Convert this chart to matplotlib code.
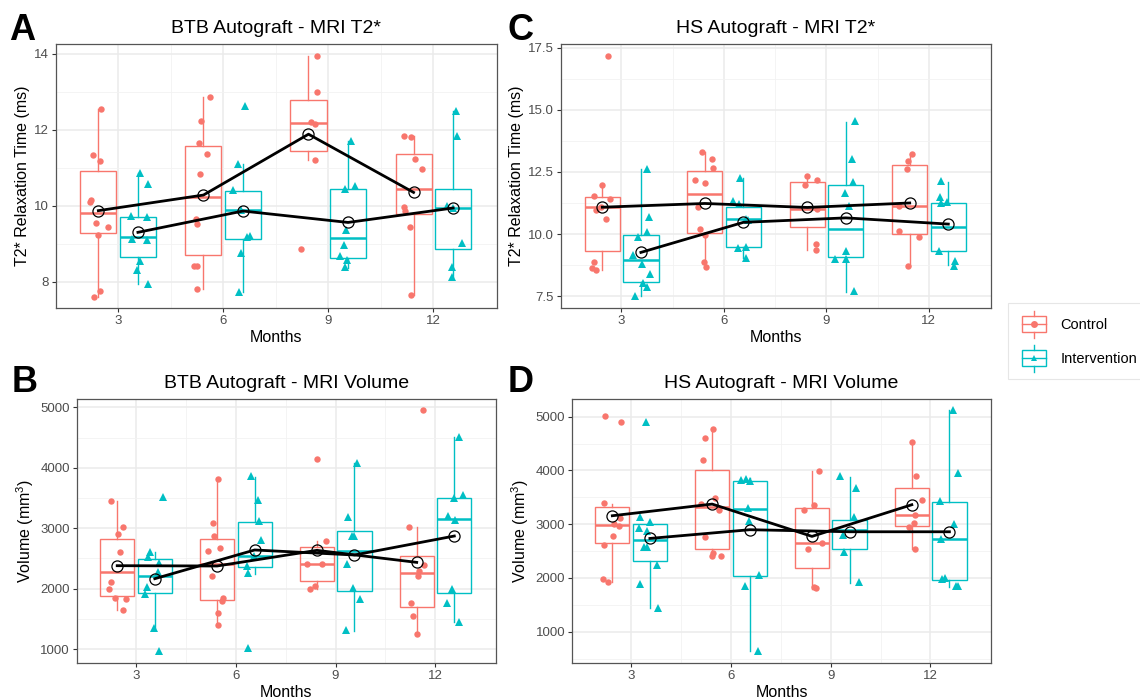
import matplotlib
matplotlib.use('Agg')
import matplotlib.pyplot as plt
from matplotlib.legend_handler import HandlerBase
from matplotlib.patches import Rectangle
from matplotlib.lines import Line2D

plt.rcParams['font.family'] = ['Liberation Sans', 'DejaVu Sans']
plt.rcParams['mathtext.fontset'] = 'custom'
plt.rcParams['mathtext.rm'] = 'Liberation Sans'
plt.rcParams['mathtext.it'] = 'Liberation Sans'

months = [3, 6, 9, 12]
groups = ['Control', 'Intervention']
colors = {'Control': '#F8766D', 'Intervention': '#00BFC4'}

# ---- A: BTB T2* ----
# box stats per month: [whisker low, q1, median, q3, whisker high]
btb_t2_ctrl_box = [[7.60, 9.29, 9.81, 10.92, 12.55], [7.81, 8.70, 10.23, 11.57, 12.85],
                   [11.20, 11.44, 12.18, 12.77, 13.93], [7.65, 9.77, 10.45, 11.36, 11.83]]
btb_t2_int_box = [[7.94, 8.66, 9.19, 9.71, 10.86], [7.72, 9.13, 9.90, 10.39, 11.10],
                  [8.37, 8.63, 9.15, 10.43, 11.69], [8.13, 8.85, 9.95, 10.44, 12.49]]
btb_t2_ctrl_pts = [[12.54, 11.32, 11.18, 10.09, 10.14, 9.54, 9.45, 9.23, 7.75, 7.60],
                   [12.85, 12.23, 11.64, 11.36, 10.84, 9.53, 9.64, 8.42, 8.42, 7.81],
                   [13.93, 12.98, 12.21, 12.16, 11.20, 8.86],
                   [11.84, 11.80, 11.22, 10.96, 9.97, 9.87, 9.45, 7.65]]
btb_t2_ctrl_jit = [[0.08, -0.16, 0.05, -0.25, -0.20, -0.07, 0.27, -0.01, 0.05, -0.12],
                   [0.20, -0.07, -0.12, 0.10, -0.10, -0.17, -0.20, -0.27, -0.17, -0.19],
                   [0.24, 0.25, 0.08, 0.19, 0.19, -0.20],
                   [-0.26, -0.06, 0.03, 0.25, -0.27, -0.24, -0.09, -0.06]]
btb_t2_int_pts = [[10.85, 10.56, 9.74, 9.70, 9.13, 9.09, 8.55, 8.32, 7.94],
                  [12.62, 11.10, 10.40, 9.90, 9.17, 9.21, 8.75, 7.72],
                  [11.69, 10.52, 10.43, 9.35, 8.97, 8.69, 8.57, 8.39],
                  [12.49, 11.84, 10.00, 9.95, 9.02, 8.40, 8.13]]
btb_t2_int_jit = [[0.06, 0.30, -0.21, 0.27, -0.16, 0.27, 0.06, -0.02, 0.29],
                  [0.07, -0.15, -0.28, -0.05, 0.10, 0.21, -0.06, -0.11],
                  [0.08, 0.19, -0.09, -0.06, -0.12, -0.23, -0.04, -0.08],
                  [0.07, 0.10, -0.18, 0.00, 0.25, -0.02, -0.03]]
btb_t2_ctrl_mean = [9.87, 10.28, 11.88, 10.35]
btb_t2_int_mean = [9.30, 9.86, 9.56, 9.94]

# ---- C: HS T2* ----
hs_t2_ctrl_box = [[8.56, 9.31, 11.08, 11.51, 11.99], [8.68, 10.06, 11.61, 12.55, 13.32],
                  [9.37, 10.29, 10.99, 12.08, 12.35], [8.72, 10.00, 11.11, 12.79, 13.23]]
hs_t2_int_box = [[7.50, 8.08, 8.96, 9.98, 12.60], [9.04, 9.49, 10.59, 11.07, 12.26],
                 [7.68, 9.06, 10.22, 11.96, 14.52], [8.74, 9.31, 10.27, 11.24, 12.10]]
hs_t2_ctrl_pts = [[17.15, 11.99, 11.54, 11.43, 10.96, 11.07, 10.60, 8.87, 8.64, 8.56],
                  [13.31, 13.02, 12.67, 12.17, 12.05, 11.08, 10.21, 9.98, 8.87, 8.68],
                  [12.35, 12.17, 11.98, 10.99, 9.61, 9.37],
                  [13.23, 12.94, 12.61, 11.12, 10.14, 9.86, 8.72]]
hs_t2_ctrl_jit = [[0.17, -0.01, -0.23, 0.23, -0.18, -0.05, 0.12, -0.24, -0.31, -0.18],
                  [-0.07, 0.22, 0.25, -0.29, 0.00, -0.19, -0.13, 0.00, -0.01, 0.03],
                  [0.00, 0.28, -0.08, 0.28, 0.26, 0.27],
                  [0.06, -0.06, -0.07, -0.32, -0.30, 0.27, -0.04]]
hs_t2_int_pts = [[12.61, 10.69, 10.08, 9.89, 9.15, 8.78, 8.39, 8.01, 7.85, 7.50],
                 [12.24, 11.31, 11.20, 10.61, 10.56, 9.42, 9.49, 9.04],
                 [14.56, 13.04, 12.10, 11.66, 11.14, 9.33, 9.00, 8.98, 7.70],
                 [12.13, 11.50, 11.23, 11.27, 9.33, 8.92, 8.72]]
hs_t2_int_jit = [[0.18, 0.25, 0.17, -0.08, -0.22, 0.04, 0.27, 0.07, 0.17, -0.18],
                 [-0.09, -0.30, -0.14, 0.08, 0.14, -0.17, 0.07, 0.09],
                 [0.28, 0.18, 0.22, -0.02, 0.08, -0.01, -0.31, 0.01, 0.23],
                 [-0.20, -0.25, -0.22, -0.03, -0.26, 0.19, 0.16]]
hs_t2_ctrl_mean = [11.08, 11.23, 11.07, 11.25]
hs_t2_int_mean = [9.26, 10.47, 10.65, 10.40]

# ---- B: BTB volume ----
btb_vol_ctrl_box = [[1640, 1883, 2269, 2821, 3445], [1397, 1811, 2407, 2821, 3808],
                    [1990, 2126, 2407, 2694, 2793], [1254, 1701, 2252, 2545, 3014]]
btb_vol_int_box = [[1342, 1927, 2203, 2490, 2610], [2247, 2357, 2539, 3108, 3840],
                   [1300, 1960, 2630, 2953, 4073], [1441, 1921, 3157, 3505, 4503]]
btb_vol_ctrl_pts = [[3455, 3019, 2898, 2611, 2114, 1999, 1844, 1833, 1640],
                    [3808, 3086, 2865, 2677, 2617, 2208, 1839, 1794, 1590, 1397],
                    [4145, 2793, 2401, 2412, 2043, 1988],
                    [4950, 3025, 2390, 2286, 2203, 1756, 1546, 1254]]
btb_vol_ctrl_jit = [[-0.19, 0.16, 0.02, 0.07, -0.19, -0.25, -0.06, 0.26, 0.17],
                    [0.03, -0.12, -0.08, 0.08, -0.26, -0.15, 0.19, 0.15, 0.02, 0.03],
                    [0.01, 0.27, -0.29, 0.15, -0.06, -0.22],
                    [0.20, -0.22, 0.23, 0.07, 0.05, -0.16, -0.12, 0.00]]
btb_vol_int_pts = [[3521, 2611, 2517, 2418, 2269, 2021, 1905, 1353, 967],
                   [3858, 3461, 3113, 2804, 2374, 2263, 2539, 1022],
                   [4073, 3179, 2876, 2876, 2401, 2015, 1822, 1309],
                   [4503, 3543, 3505, 3196, 3141, 1988, 1767, 1441]]
btb_vol_int_jit = [[0.26, -0.13, -0.21, 0.14, 0.11, -0.24, -0.29, -0.02, 0.14],
                   [-0.12, 0.11, 0.13, 0.19, -0.22, -0.20, -0.01, -0.20],
                   [0.07, -0.20, -0.08, 0.00, -0.22, -0.04, 0.17, -0.26],
                   [0.13, 0.27, -0.01, -0.19, 0.01, -0.08, -0.21, 0.13]]
btb_vol_ctrl_mean = [2379, 2374, 2633, 2434]
btb_vol_int_mean = [2164, 2639, 2556, 2870]

# ---- D: HS volume ----
hs_vol_ctrl_box = [[1918, 2650, 2978, 3326, 3380], [2401, 2544, 3326, 4014, 4771],
                   [1800, 2184, 2656, 3301, 3995], [2532, 2972, 3164, 3673, 4529]]
hs_vol_int_box = [[1447, 2315, 2712, 2997, 3047], [640, 2042, 3276, 3803, 3859],
                  [1912, 2544, 2885, 3078, 3878], [1837, 1961, 2730, 3419, 5118]]
hs_vol_ctrl_pts = [[5012, 4907, 3400, 3121, 3003, 2966, 2774, 2606, 1974, 1918],
                   [4771, 4609, 4194, 3481, 3381, 3257, 2755, 2457, 2414, 2401],
                   [3995, 3264, 3350, 2656, 2538, 1825, 1818],
                   [4529, 3890, 3450, 3164, 3022, 2941, 2532]]
hs_vol_ctrl_jit = [[-0.22, 0.25, -0.24, 0.22, 0.04, 0.19, 0.03, -0.24, -0.29, -0.14],
                   [0.03, -0.21, -0.28, 0.10, -0.32, 0.20, -0.22, 0.03, -0.01, 0.28],
                   [0.22, -0.23, 0.05, 0.29, -0.11, 0.07, 0.13],
                   [0.00, 0.13, 0.30, 0.10, 0.08, -0.07, 0.11]]
hs_vol_int_pts = [[4895, 3127, 3047, 2929, 2873, 2581, 2581, 2240, 1887, 1447],
                  [3828, 3840, 3797, 3295, 3065, 2054, 1856, 647],
                  [3902, 3673, 3127, 2798, 2482, 1924],
                  [5124, 3946, 3437, 3009, 2730, 1980, 1992, 1856, 1850]]
hs_vol_int_jit = [[-0.12, -0.30, -0.01, -0.32, -0.08, -0.19, -0.08, 0.22, -0.30, 0.25],
                  [-0.25, -0.10, 0.00, -0.06, -0.02, 0.29, -0.15, 0.26],
                  [-0.28, 0.18, 0.12, -0.21, -0.17, 0.29],
                  [0.12, 0.27, -0.28, 0.13, -0.24, -0.22, -0.13, 0.19, 0.26]]
hs_vol_ctrl_mean = [3158, 3375, 2774, 3363]
hs_vol_int_mean = [2736, 2898, 2860, 2860]

dodge = {'Control': -0.56, 'Intervention': 0.57}
markers = {'Control': 'o', 'Intervention': '^'}
box_w = 1.03


def draw_group(ax, grp, box, pts, jit, mean):
    col = colors[grp]
    pos = [m + dodge[grp] for m in months]
    stats = [dict(whislo=b[0], q1=b[1], med=b[2], q3=b[3], whishi=b[4], fliers=[])
             for b in box]
    ax.bxp(stats, positions=pos, widths=box_w, showcaps=False, showfliers=False,
           patch_artist=True, manage_ticks=False,
           boxprops=dict(facecolor='none', edgecolor=col, linewidth=1.0),
           whiskerprops=dict(color=col, linewidth=1.0),
           medianprops=dict(color=col, linewidth=1.8), zorder=2)
    for p, vals, js in zip(pos, pts, jit):
        xs = [p + j for j in js]
        ax.plot(xs, vals, linestyle='none', marker=markers[grp], color=col,
                markersize=4.6 if grp == 'Control' else 5.2, markeredgewidth=0, zorder=3)
    ax.plot(pos, mean, color='black', linewidth=2.0, zorder=4)
    ax.plot(pos, mean, linestyle='none', marker='o', markersize=8,
            markerfacecolor='none', markeredgecolor='black', markeredgewidth=0.9, zorder=5)


def panel(rect, title, ylabel, ylim, majors, minors, ctrl, intv):
    ax = fig.add_axes(rect)
    ax.set_xlim(1.23, 13.82)
    ax.set_ylim(*ylim)
    ax.set_xticks(months)
    ax.set_xticks([4.5, 7.5, 10.5], minor=True)
    ax.set_yticks(majors)
    ax.set_yticks(minors, minor=True)
    ax.grid(which='major', color='#EBEBEB', linewidth=1.1, zorder=0)
    ax.grid(which='minor', color='#F2F2F2', linewidth=0.6, zorder=0)
    ax.set_axisbelow(True)
    ax.tick_params(which='major', length=3, width=0.8, color='#333333',
                   labelsize=9.5, labelcolor='#4D4D4D', pad=2)
    ax.tick_params(which='minor', length=0)
    for s in ax.spines.values():
        s.set_color('#555555')
        s.set_linewidth(0.9)
    ax.set_title(title, fontsize=14, pad=8)
    ax.set_xlabel('Months', fontsize=11.5, labelpad=2)
    ax.set_ylabel(ylabel, fontsize=11.5, labelpad=3)
    draw_group(ax, 'Control', *ctrl)
    draw_group(ax, 'Intervention', *intv)
    return ax


class BoxHandler(HandlerBase):
    def __init__(self, grp):
        super().__init__()
        self.grp = grp

    def create_artists(self, legend, orig_handle, xdescent, ydescent, width, height,
                       fontsize, trans):
        col = colors[self.grp]
        cx = width / 2 - xdescent
        cy = height / 2 - ydescent
        bw, bh = width * 0.9, height * 1.0
        rect = Rectangle((cx - bw / 2, cy - bh / 2), bw, bh, facecolor='white',
                         edgecolor=col, linewidth=1.0, transform=trans)
        med = Line2D([cx - bw / 2, cx + bw / 2], [cy, cy], color=col, lw=1.0, transform=trans)
        wt = Line2D([cx, cx], [cy + bh / 2, cy + bh / 2 + 4], color=col, lw=1.0, transform=trans)
        wb = Line2D([cx, cx], [cy - bh / 2, cy - bh / 2 - 4], color=col, lw=1.0, transform=trans)
        pt = Line2D([cx], [cy], marker=markers[self.grp], color=col, markersize=5,
                    markeredgewidth=0, transform=trans)
        return [rect, med, wt, wb, pt]


fig = plt.figure(figsize=(11.4, 6.98), dpi=100)

panel([0.0491, 0.5587, 0.3868, 0.3782], 'BTB Autograft - MRI T2*', 'T2* Relaxation Time (ms)',
      (7.31, 14.25), [8, 10, 12, 14], [9, 11, 13],
      (btb_t2_ctrl_box, btb_t2_ctrl_pts, btb_t2_ctrl_jit, btb_t2_ctrl_mean),
      (btb_t2_int_box, btb_t2_int_pts, btb_t2_int_jit, btb_t2_int_mean))
panel([0.4921, 0.5587, 0.3772, 0.3782], 'HS Autograft - MRI T2*', 'T2* Relaxation Time (ms)',
      (7.02, 17.65), [7.5, 10.0, 12.5, 15.0, 17.5], [8.75, 11.25, 13.75, 16.25],
      (hs_t2_ctrl_box, hs_t2_ctrl_pts, hs_t2_ctrl_jit, hs_t2_ctrl_mean),
      (hs_t2_int_box, hs_t2_int_pts, hs_t2_int_jit, hs_t2_int_mean))
panel([0.0675, 0.0501, 0.3675, 0.3782], 'BTB Autograft - MRI Volume', 'Volume (mm$^3$)',
      (768, 5137), [1000, 2000, 3000, 4000, 5000], [1500, 2500, 3500, 4500],
      (btb_vol_ctrl_box, btb_vol_ctrl_pts, btb_vol_ctrl_jit, btb_vol_ctrl_mean),
      (btb_vol_int_box, btb_vol_int_pts, btb_vol_int_jit, btb_vol_int_mean))
panel([0.5018, 0.0501, 0.3675, 0.3782], 'HS Autograft - MRI Volume', 'Volume (mm$^3$)',
      (418, 5329), [1000, 2000, 3000, 4000, 5000], [500, 1500, 2500, 3500, 4500],
      (hs_vol_ctrl_box, hs_vol_ctrl_pts, hs_vol_ctrl_jit, hs_vol_ctrl_mean),
      (hs_vol_int_box, hs_vol_int_pts, hs_vol_int_jit, hs_vol_int_mean))

# panel letters
for letter, x, y in [('A', 0.008, 0.943), ('C', 0.445, 0.943),
                     ('B', 0.010, 0.438), ('D', 0.445, 0.438)]:
    fig.text(x, y, letter, fontsize=26, fontweight='bold', va='baseline')

h_ctrl, h_int = object(), object()
leg = fig.legend([h_ctrl, h_int], groups, loc='upper left',
                 bbox_to_anchor=(0.884, 0.566), bbox_transform=fig.transFigure,
                 handler_map={h_ctrl: BoxHandler('Control'), h_int: BoxHandler('Intervention')},
                 fontsize=10.5, frameon=True, fancybox=False, borderaxespad=0,
                 handlelength=1.8, handleheight=1.3, handletextpad=0.9,
                 labelspacing=1.25, borderpad=0.9)
leg.get_frame().set_edgecolor('#E0E0E0')
leg.get_frame().set_linewidth(0.8)

fig.savefig('out.png', dpi=100)
